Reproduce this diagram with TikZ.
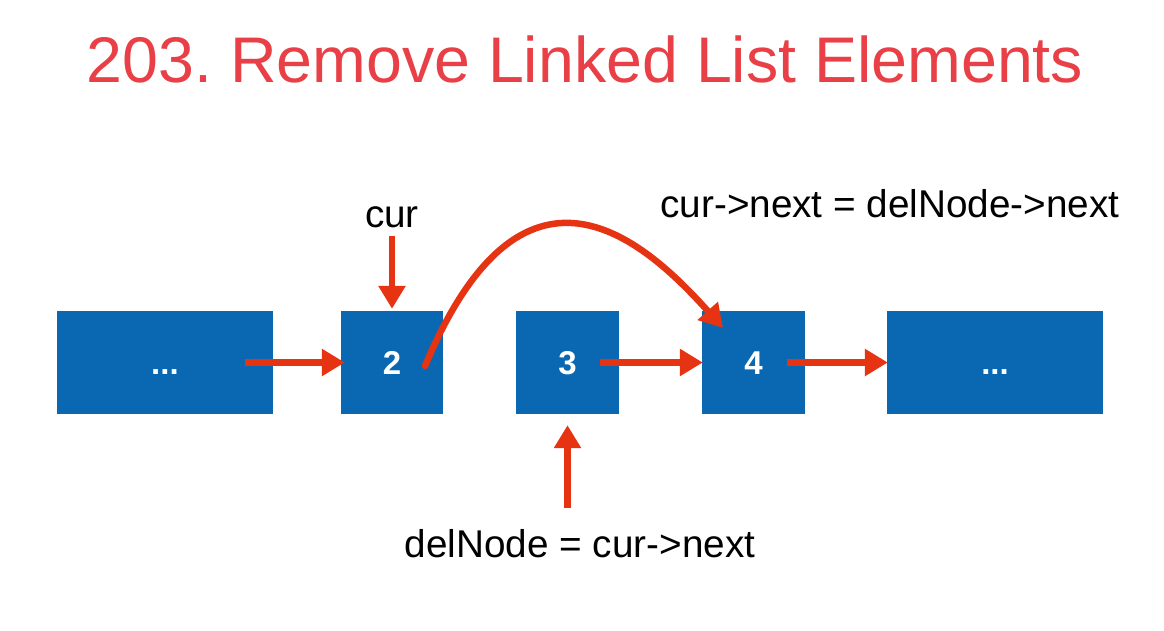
\documentclass[tikz,border=0pt]{standalone}
\usepackage{fontspec}
\setmainfont{Liberation Sans}
\usetikzlibrary{arrows.meta}
\definecolor{listblue}{RGB}{10,104,178}
\definecolor{arrowred}{RGB}{230,52,18}
\definecolor{titlered}{RGB}{232,64,70}
\frenchspacing
\begin{document}
\begin{tikzpicture}[x=1pt,y=-1pt,
  cell/.style={fill=listblue, draw=none, inner sep=0pt, text=white,
    font=\fontsize{33}{33}\selectfont\bfseries, text height=24pt, text depth=0pt},
  ptr/.style={draw=arrowred, line width=6.5pt,
    -{Triangle[length=23pt,width=26pt]}},
  lbl/.style={inner sep=0pt, anchor=base, font=\fontsize{38.7}{40}\selectfont}
]
\useasboundingbox[fill=white] (0,0) rectangle (1164,631);

% title
\node[lbl, text=titlered, font=\fontsize{64.5}{66}\selectfont] (title) at (585,83)
  {203. Remove Linked List Elements};

% list cells
\node[cell, minimum width=216pt, minimum height=103pt] (nA) at (165,362.5) {...};
\node[cell, minimum width=102pt, minimum height=103pt] (n2) at (392,362.5) {2};
\node[cell, minimum width=103pt, minimum height=103pt] (n3) at (567.5,362.5) {3};
\node[cell, minimum width=103pt, minimum height=103pt] (n4) at (753.5,362.5) {4};
\node[cell, minimum width=216pt, minimum height=103pt] (nE) at (995,362.5) {...};

% labels
\node[lbl] (cur) at (392,227) {cur};
\node[lbl] (upd) at (890,218) {cur->next = delNode->next};
\node[lbl] (del) at (580,557) {delNode = cur->next};

% next links
\draw[ptr] ([xshift=-28pt]nA.east) -- ([xshift=4pt]n2.west);
\draw[ptr] ([xshift=-19pt]n3.east) -- ([xshift=1pt]n4.west);
\draw[ptr] ([xshift=-18pt]n4.east) -- ([xshift=1pt]nE.west);

% pointers
\draw[ptr] ([yshift=-8pt]cur.south) -- ([yshift=2pt]n2.north);
\coordinate (dtail) at ([yshift=21pt]n3.south |- del.north);
\draw[ptr] (dtail) -- ([yshift=-11pt]n3.south);

% relinking cur->next past the deleted cell
\coordinate (cs) at (425,366);
\coordinate (ce) at (723,328);
\draw[ptr, line cap=round] (cs) .. controls (522,135) and (640,235) .. (ce);
\end{tikzpicture}
\end{document}
